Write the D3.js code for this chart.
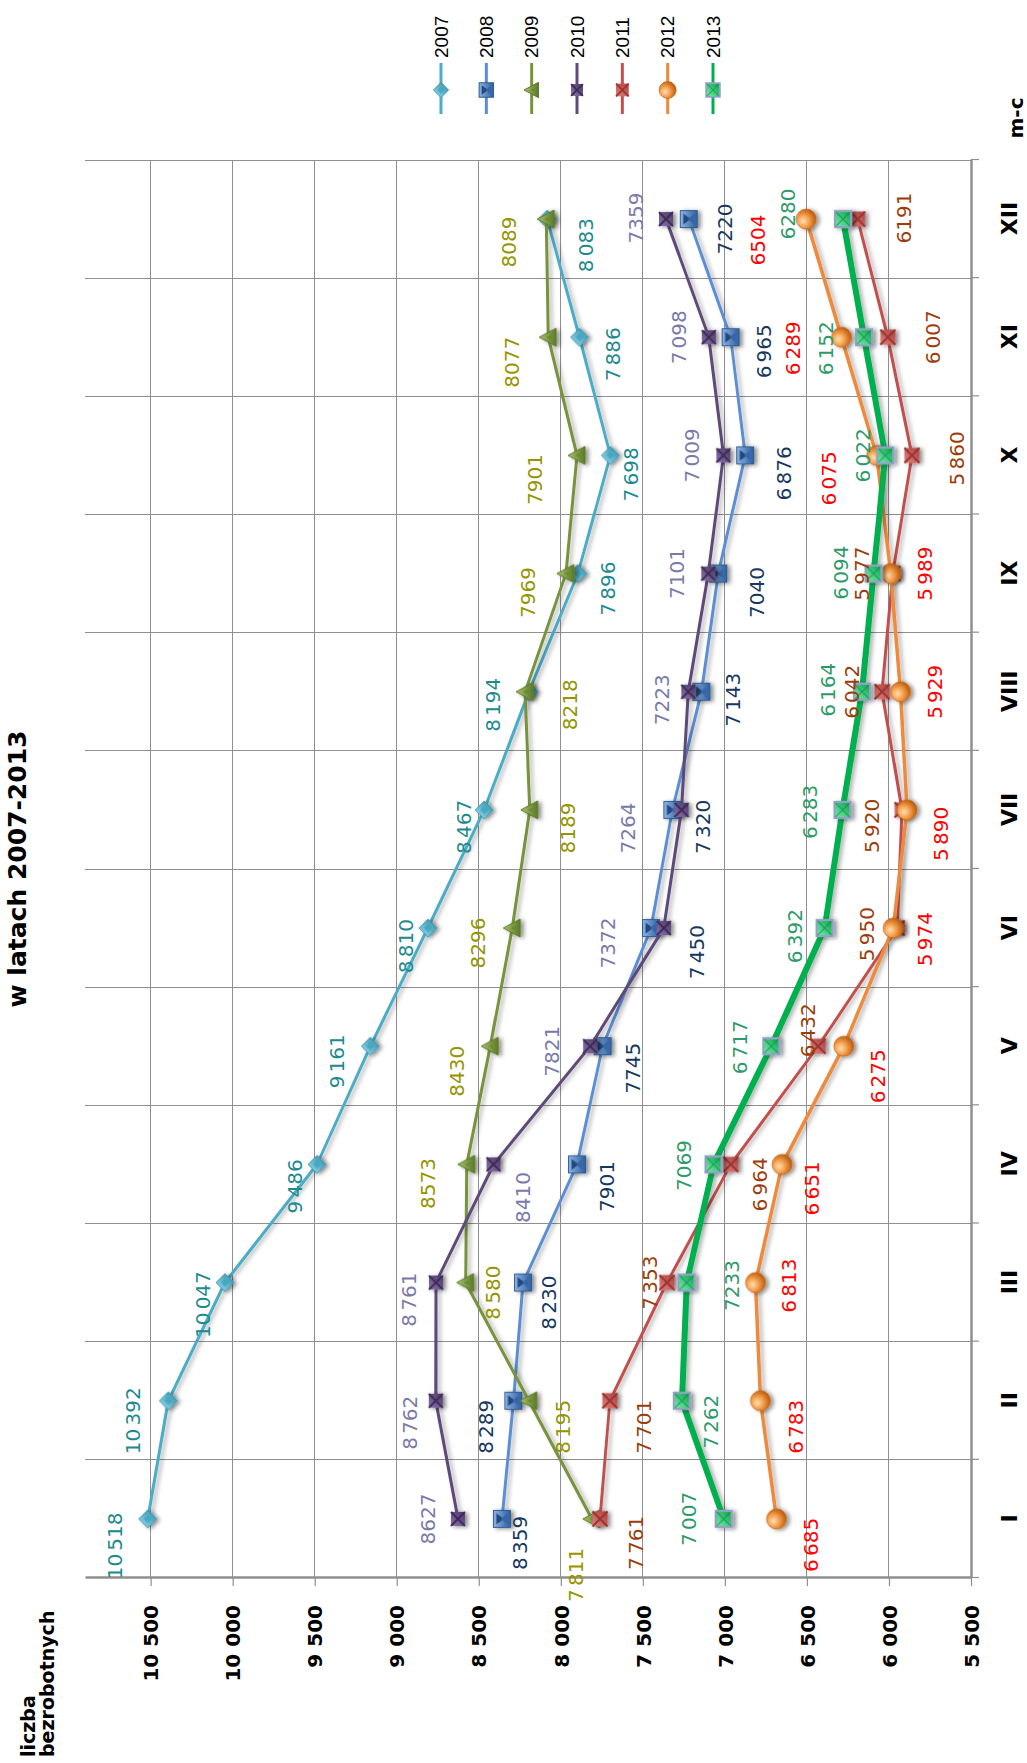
<!DOCTYPE html>
<html><head><meta charset="utf-8">
<script src="https://cdn.jsdelivr.net/npm/d3@7"></script>
<style>body{margin:0;background:#fff}svg{display:block}text{white-space:pre}</style>
</head><body>
<svg id="c" width="1027" height="1763"></svg>
<script>
// ---------- DATA ----------
const months = ["I","II","III","IV","V","VI","VII","VIII","IX","X","XI","XII"];
const years = ["2007","2008","2009","2010","2011","2012","2013"];
const valueTicks = [5500,6000,6500,7000,7500,8000,8500,9000,9500,10000,10500];
const valueTickLabels = ["5 500","6 000","6 500","7 000","7 500","8 000","8 500","9 000","9 500","10 000","10 500"];

const v2007 = [10518,10392,10047,9486,9161,8810,8467,8194,7896,7698,7886,8083];
const v2008 = [8359,8289,8230,7901,7745,7450,7320,7143,7040,6876,6965,7220];
const v2009 = [7811,8195,8580,8573,8430,8296,8189,8218,7969,7901,8077,8089];
const v2010 = [8627,8762,8761,8410,7821,7372,7264,7223,7101,7009,7098,7359];
const v2011 = [7761,7701,7353,6964,6432,5950,5920,6042,5977,5860,6007,6191];
const v2012 = [6685,6783,6813,6651,6275,5974,5890,5929,5989,6075,6289,6504];
const v2013 = [7007,7262,7233,7069,6717,6392,6283,6164,6094,6022,6152,6280];

const t2007 = ["10 518","10 392","10 047","9 486","9 161","8 810","8 467","8 194","7 896","7 698","7 886","8 083"];
const t2008 = ["8 359","8 289","8 230","7901","7745","7 450","7 320","7 143","7040","6 876","6 965","7220"];
const t2009 = ["7 811","8 195","8 580","8573","8430","8296","8189","8218","7969","7901","8077","8089"];
const t2010 = ["8627","8 762","8 761","8410","7821","7372","7264","7223","7101","7 009","7 098","7359"];
const t2011 = ["7 761","7 701","7 353","6 964","6 432","5 950","5 920","6 042","5 977","5 860","6 007","6191"];
const t2012 = ["6 685","6 783","6 813","6 651","6 275","5 974","5 890","5 929","5 989","6 075","6 289","6504"];
const t2013 = ["7 007","7 262","7233","7069","6 717","6 392","6 283","6 164","6 094","6 022","6 152","6280"];

// ---------- LAYOUT (label offsets, px, in chart frame) ----------
const off2007 = [[-27,-33],[-20,-35],[-22,-22],[-22,-22],[-15,-33],[-18,-22],[-17,-20],[-13,-36],[-15,30],[-19,21],[-17,33],[-26,39]];
const off2008 = [[-24,18],[-26,-27],[-20,26],[-22,30],[-22,30],[-24,46],[-17,31],[-8,32],[-19,39],[-18,39],[-14,33],[-10,36]];
const off2009 = [[-56,-16],[-26,34],[-10,27],[-19,-39],[-25,-33],[-15,-34],[-18,38],[-13,45],[-19,-38],[-24,-42],[-25,-36],[-23,-37]];
const off2010 = [[0,-30],[-22,-26],[-17,-27],[-33,29],[-5,-38],[-15,-56],[-18,-54],[-8,-26],[0,-31],[0,-31],[0,-30],[1,-30]];
const off2011 = [[-24,36],[-26,34],[0,-17],[-20,29],[16,-10],[-6,-30],[-16,-30],[0,-30],[0,-31],[-3,45],[0,45],[1,46]];
const off2012 = [[-26,34],[-26,36],[-3,33],[-24,30],[-30,34],[-11,32],[-24,34],[0,34],[0,34],[-23,-48],[-11,-49],[-21,-48]];
const off2013 = [[0,-35],[-21,29],[-3,45],[-1,-30],[-1,-31],[-8,-30],[-2,-33],[2,-34],[1,-33],[0,-22],[-11,-38],[5,-55]];

const series = [
  {year:"2007", values:v2007, texts:t2007, off:off2007, line:"#4BACC6", lw:3,   label:"#1E8A8E", marker:"diamond"},
  {year:"2008", values:v2008, texts:t2008, off:off2008, line:"#5B8ED3", lw:3,   label:"#17375E", marker:"sq2008"},
  {year:"2009", values:v2009, texts:t2009, off:off2009, line:"#77933C", lw:3,   label:"#959500", marker:"tri"},
  {year:"2010", values:v2010, texts:t2010, off:off2010, line:"#5F497A", lw:3,   label:"#7A7AAA", marker:"sq2010"},
  {year:"2011", values:v2011, texts:t2011, off:off2011, line:"#C0504D", lw:3,   label:"#9C3C0A", marker:"sq2011"},
  {year:"2012", values:v2012, texts:t2012, off:off2012, line:"#EE8A3C", lw:3.5, label:"#FF0000", marker:"circ"},
  {year:"2013", values:v2013, texts:t2013, off:off2013, line:"#00B050", lw:6,   label:"#2E9A6A", marker:"sq2013"}
];

// ---------- CHART ----------
const W = 1763, H = 1027;
const P = {left:185, right:1603, top:85, bottom:971};
const svg = d3.select("#c");
const defs = svg.append("defs");

const lf = defs.append("filter").attr("id","shL").attr("filterUnits","userSpaceOnUse")
  .attr("x",-100).attr("y",-100).attr("width",2000).attr("height",1300);
lf.append("feDropShadow").attr("dx",-1).attr("dy",3).attr("stdDeviation",2).attr("flood-color","#000").attr("flood-opacity",0.3);
const mf = defs.append("filter").attr("id","shM").attr("x","-60%").attr("y","-60%").attr("width","220%").attr("height","220%");
mf.append("feDropShadow").attr("dx",-1).attr("dy",3).attr("stdDeviation",2).attr("flood-color","#000").attr("flood-opacity",0.45);

function lg(id, c1, c2, x2, y2){
  const g = defs.append("linearGradient").attr("id",id).attr("x1",0).attr("y1",0).attr("x2",x2).attr("y2",y2);
  g.append("stop").attr("offset","0%").attr("stop-color",c1);
  g.append("stop").attr("offset","100%").attr("stop-color",c2);
}
lg("gDia","#9ADCEC","#2B8AA6",1,1);
lg("gSq8","#8DB4E8","#2F5E9C",0,1);
lg("gTri","#A9C46A","#5B7A26",0,1);
lg("gSq10","#8A70AE","#4C3866",1,1);
lg("gSq11","#E3807D","#A8403D",1,1);
lg("gSq13","#7FF0B0","#00A046",1,1);
const rg = defs.append("radialGradient").attr("id","gCirc").attr("cx","40%").attr("cy","35%").attr("r","65%");
rg.append("stop").attr("offset","0%").attr("stop-color","#FDE1B5");
rg.append("stop").attr("offset","45%").attr("stop-color","#F6A04E");
rg.append("stop").attr("offset","100%").attr("stop-color","#B85A0C");

function drawMarker(sel, type, s){
  if(type==="diamond"){
    sel.append("path").attr("d",`M0,${-9*s}L${9*s},0L0,${9*s}L${-9*s},0Z`).attr("fill","url(#gDia)").attr("stroke","#3397B3").attr("stroke-width",0.8);
    sel.append("path").attr("d",`M0,${-4*s}L${4*s},0L0,${4*s}L${-4*s},0Z`).attr("fill","#3FA5C2").attr("opacity",0.8);
  } else if(type==="sq2008"){
    const h=8.5*s;
    sel.append("rect").attr("x",-h).attr("y",-h).attr("width",2*h).attr("height",2*h).attr("fill","url(#gSq8)").attr("stroke","#2E5B93").attr("stroke-width",1);
    sel.append("path").attr("d",`M${-h+3*s},${-h+3*s}L${h-3*s},${-h+3*s}L0,${2*s}Z`).attr("fill","#244A7C");
    sel.append("path").attr("d",`M${-h+3*s},${h-3*s}L${h-3*s},${h-3*s}L0,${-1*s}Z`).attr("fill","#3566A8");
  } else if(type==="tri"){
    sel.append("path").attr("d",`M0,${-9*s}L${9*s},${8*s}L${-9*s},${8*s}Z`).attr("fill","url(#gTri)").attr("stroke","#5E7A2C").attr("stroke-width",1);
    sel.append("path").attr("d",`M0,${-2*s}L${3.5*s},${5*s}L${-3.5*s},${5*s}Z`).attr("fill","#6C8A35");
  } else if(type==="sq2010" || type==="sq2011"){
    const h=(type==="sq2010"?7:7.5)*s;
    const fill = type==="sq2010"?"url(#gSq10)":"url(#gSq11)";
    const xc = type==="sq2010"?"#3E2C55":"#9C3431";
    sel.append("rect").attr("x",-h).attr("y",-h).attr("width",2*h).attr("height",2*h).attr("fill",fill);
    sel.append("path").attr("d",`M${-h},${-h}L${h},${h}M${h},${-h}L${-h},${h}`).attr("stroke",xc).attr("stroke-width",2*s);
  } else if(type==="circ"){
    sel.append("circle").attr("r",10*s).attr("fill","url(#gCirc)").attr("stroke","#C66A16").attr("stroke-width",0.8);
  } else if(type==="sq2013"){
    const h=8*s;
    sel.append("rect").attr("x",-h).attr("y",-h).attr("width",2*h).attr("height",2*h).attr("fill","url(#gSq13)").attr("stroke","#8FA3C3").attr("stroke-width",2.2*s);
    sel.append("path").attr("d",`M${-h+1},${-h+1}L${h-1},${h-1}M${h-1},${-h+1}L${-h+1},${h-1}`).attr("stroke","#0F8F4A").attr("stroke-width",1.2*s).attr("opacity",0.7);
  }
}

// chart frame rotated so that the months run from bottom to top of the page
const g = svg.append("g").attr("transform",`translate(0,${W}) rotate(-90)`);

const x = d3.scalePoint().domain(months).range([P.left,P.right]).padding(0.5);
const xb = d3.scaleLinear().domain([0,months.length]).range([P.left,P.right]);
const y = d3.scaleLinear().domain([5500,10900]).range([P.bottom,P.top]);

const grid = g.append("g").attr("stroke","#8F8F8F").attr("stroke-width",1).attr("shape-rendering","crispEdges");
grid.selectAll(".hg").data(valueTicks.slice(1)).join("line")
  .attr("x1",P.left).attr("x2",P.right).attr("y1",d=>y(d)).attr("y2",d=>y(d));
grid.selectAll(".vg").data(d3.range(1,months.length+1)).join("line")
  .attr("x1",d=>xb(d)).attr("x2",d=>xb(d)).attr("y1",P.top).attr("y2",P.bottom);

// value axis
const yAxis = g.append("g").attr("transform",`translate(${P.left},0)`)
  .call(d3.axisLeft(y).tickValues(valueTicks).tickSize(8).tickSizeOuter(0).tickPadding(19)
    .tickFormat((d,i)=>valueTickLabels[i]));
yAxis.select(".domain").attr("stroke","#8F8F8F").attr("stroke-width",2.5);
yAxis.selectAll(".tick line").attr("stroke","#8F8F8F").attr("stroke-width",1.2);
yAxis.selectAll("text").attr("font-family","DejaVu Sans").attr("font-weight","bold").attr("font-size",20).attr("fill","#000").attr("dy","0.36em");

// category axis
const xAxisT = g.append("g").attr("transform",`translate(0,${P.bottom})`)
  .call(d3.axisBottom(xb).tickValues(d3.range(0,months.length+1)).tickSize(8).tickSizeOuter(0).tickFormat(""));
xAxisT.select(".domain").attr("stroke","#8F8F8F").attr("stroke-width",2.5);
xAxisT.selectAll(".tick line").attr("stroke","#8F8F8F").attr("stroke-width",1.2);
const xAxisL = g.append("g").attr("transform",`translate(0,${P.bottom})`)
  .call(d3.axisBottom(x).tickSize(0).tickPadding(30));
xAxisL.select(".domain").remove();
xAxisL.selectAll("text").attr("font-family","DejaVu Sans").attr("font-weight","bold").attr("font-size",22).attr("fill","#000");

// series
const line = d3.line().x((d,i)=>x(months[i])).y(d=>y(d));
series.forEach(s=>{
  const sg = g.append("g");
  sg.append("path").datum(s.values).attr("d",line).attr("fill","none")
    .attr("stroke",s.line).attr("stroke-width",s.lw).attr("stroke-linejoin","round").attr("filter","url(#shL)");
  sg.selectAll(".m").data(s.values).join("g")
    .attr("transform",(d,i)=>`translate(${x(months[i])},${y(d)})`).attr("filter","url(#shM)")
    .each(function(){ drawMarker(d3.select(this), s.marker, 1); });
});

// data labels
function labelText(sel, str){
  const parts = str.split(" ");
  if(parts.length===1){ sel.text(str); return; }
  sel.append("tspan").text(parts[0]);
  sel.append("tspan").attr("font-size",10).text(" ");
  sel.append("tspan").text(parts[1]);
}
series.forEach(s=>{
  g.append("g").selectAll("text").data(s.values).join("text")
    .attr("x",(d,i)=>x(months[i])+s.off[i][0]).attr("y",(d,i)=>y(d)+s.off[i][1])
    .attr("text-anchor","middle").attr("dominant-baseline","central")
    .attr("font-family","DejaVu Sans").attr("font-size",20).attr("fill",s.label)
    .each(function(d,i){ labelText(d3.select(this), s.texts[i]); });
});

// legend
const ly = d3.scalePoint().domain(years).range([441,713]);
const leg = g.append("g");
series.forEach(s=>{
  const yy = ly(s.year);
  leg.append("line").attr("x1",1649).attr("x2",1700).attr("y1",yy).attr("y2",yy)
    .attr("stroke",s.line).attr("stroke-width",Math.min(s.lw,3));
  const mg = leg.append("g").attr("transform",`translate(1673,${yy})`);
  drawMarker(mg, s.marker, 0.85);
  leg.append("text").attr("x",1705).attr("y",yy).attr("dominant-baseline","central")
    .attr("font-family","Liberation Sans, Arial, sans-serif").attr("font-size",19).attr("fill","#000").text(s.year);
});

// titles
g.append("text").attr("x",(P.left+P.right)/2).attr("y",26).attr("text-anchor","middle")
  .attr("font-family","DejaVu Sans").attr("font-weight","bold").attr("font-size",25).attr("fill","#000")
  .text("w latach 2007-2013");
const yt = g.append("text").attr("font-family","DejaVu Sans").attr("font-weight","bold").attr("font-size",19).attr("fill","#000");
yt.append("tspan").attr("x",6).attr("y",35).text("liczba");
yt.append("tspan").attr("x",6).attr("y",54).text("bezrobotnych");
g.append("text").attr("x",1645).attr("y",1023).attr("text-anchor","middle")
  .attr("font-family","DejaVu Sans").attr("font-weight","bold").attr("font-size",20).attr("fill","#000").text("m-c");
</script>
</body></html>
